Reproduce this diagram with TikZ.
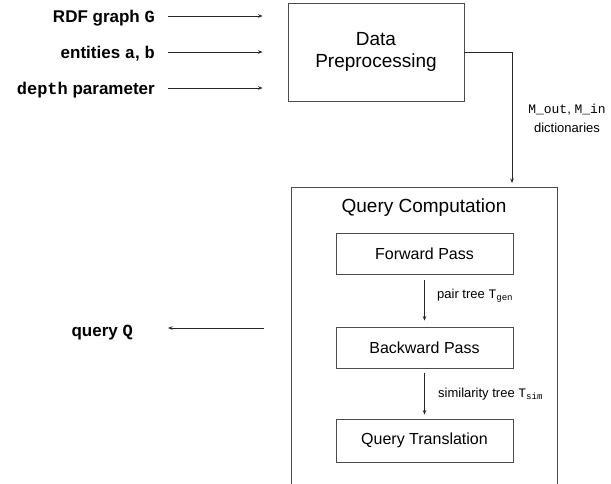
\documentclass[tikz,border=0pt]{standalone}
\usepackage{fontspec}
\setmainfont{Liberation Sans}
\setsansfont{Liberation Sans}
\setmonofont{Liberation Mono}
\usetikzlibrary{arrows.meta}
\begin{document}
\begin{tikzpicture}[x=1pt,y=-1pt,
  box/.style={draw=black!70, line width=0.8pt, inner sep=0pt, align=center},
  arr/.style={draw=black!85, line width=0.8pt, -{Stealth[length=4.5pt,width=3.5pt]}},
  inlabel/.style={inner sep=0pt, anchor=base east, font=\fontsize{17}{20}\selectfont\bfseries},
  small/.style={font=\fontsize{13}{19}\selectfont, inner sep=0pt}]
\useasboundingbox (0,0) rectangle (611,484);

% input labels
\node[inlabel] (in1) at (155,23) {RDF graph \texttt{G}};
\node[inlabel] (in2) at (155,59) {entities \texttt{a}, \texttt{b}};
\node[inlabel] (in3) at (155,95) {\texttt{depth} parameter};

% data preprocessing
\node[box, minimum width=176pt, minimum height=98pt,
      font=\fontsize{19}{22}\selectfont] (dp) at (376,52) {Data\\Preprocessing};

\foreach \i in {1,2,3}{
  \coordinate (a\i) at ([shift={(13pt,7pt)}]in\i.base east);
  \draw[arr, shorten >=25pt] (a\i) -- (a\i -| dp.west);
}

% query computation container (open at the bottom)
\begin{scope}
  \clip (0,0) rectangle (611,484);
  \node[box, minimum width=266pt, minimum height=330pt, anchor=north west] (qc) at (291,187) {};
\end{scope}
\node[inner sep=0pt, font=\fontsize{19}{22}\selectfont] (qct) at (424,208) {Query Computation};

\coordinate (qcin) at (512,187);
\draw[arr, shorten >=4pt] (dp.east) -| (qcin);
\node[small, align=center] (mlab) at (567,118) {\texttt{M\_out}, \texttt{M\_in}\\dictionaries};

% inner steps
\node[box, minimum width=177pt, minimum height=41pt, font=\fontsize{16}{19}\selectfont] (fp) at (424.5,253.5) {Forward Pass};
\node[box, minimum width=177pt, minimum height=41pt, font=\fontsize{16}{19}\selectfont] (bp) at (424.5,347.5) {Backward Pass};
\node[box, minimum width=177pt, minimum height=43pt, font=\fontsize{16}{19}\selectfont] (qt) at (424.5,440.5) {Query Translation};

\draw[arr, shorten <=6pt, shorten >=6pt] (fp.south) -- (bp.north);
\draw[arr, shorten <=5pt, shorten >=4pt] (bp.south) -- (qt.north);

\node[small, anchor=west] (l1) at (437,296) {pair tree \texttt{T}\textsubscript{\texttt{gen}}};
\node[small, anchor=west] (l2) at (438,394) {similarity tree \texttt{T}\textsubscript{\texttt{sim}}};

% output
\node[inlabel] (out) at (133,336) {query \texttt{Q}};
\coordinate (qsrc) at (264,328);
\draw[arr, shorten >=35pt] (qsrc) -- (qsrc -| out.base east);
\end{tikzpicture}
\end{document}
